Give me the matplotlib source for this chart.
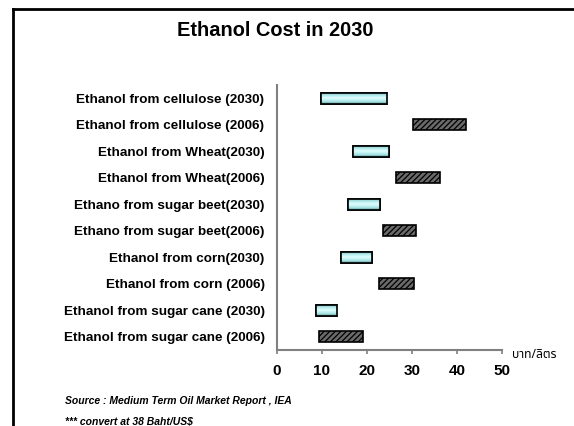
import numpy as np
import matplotlib
matplotlib.use("Agg")
import matplotlib.pyplot as plt
from matplotlib.colors import LinearSegmentedColormap
from matplotlib.lines import Line2D

plt.rcParams['font.family'] = ['Liberation Sans', 'DejaVu Sans', 'Noto Sans']
plt.rcParams['hatch.linewidth'] = 0.9

# Categories listed bottom to top
categories = [
    "Ethanol from sugar cane (2006)",
    "Ethanol from sugar cane (2030)",
    "Ethanol from corn (2006)",
    "Ethanol from corn(2030)",
    "Ethano from sugar beet(2006)",
    "Ethano from sugar beet(2030)",
    "Ethanol from Wheat(2006)",
    "Ethanol from Wheat(2030)",
    "Ethanol from cellulose (2006)",
    "Ethanol from cellulose (2030)",
]
cost_low = [9.4, 8.6, 22.7, 14.3, 23.5, 15.8, 26.4, 16.9, 30.3, 9.7]
cost_high = [19.1, 13.4, 30.5, 21.0, 30.8, 22.8, 36.2, 24.8, 42.0, 24.4]
year = [2006, 2030, 2006, 2030, 2006, 2030, 2006, 2030, 2006, 2030]
x_ticks = [0, 10, 20, 30, 40, 50]

fig = plt.figure(figsize=(5.74, 4.26), dpi=100)
fig.patch.set_facecolor('white')

# Slide frame
fig.add_artist(Line2D([13/574, 13/574], [0, 1 - 9/426], transform=fig.transFigure,
                      color='black', lw=2))
fig.add_artist(Line2D([13/574, 1], [1 - 9/426, 1 - 9/426], transform=fig.transFigure,
                      color='black', lw=2))

ax = fig.add_axes([277/574, 1 - 350/426, 225/574, 265/426])

y = np.arange(len(categories))
h = 0.42
widths = [hi - lo for lo, hi in zip(cost_low, cost_high)]

grad_cmap = LinearSegmentedColormap.from_list(
    'cyanbar', ['#3f6f6f', '#9ad6d6', '#bff2f2', '#dffcfc', '#bff2f2', '#a2dede', '#4f8383'])
grad = np.linspace(0, 1, 64).reshape(-1, 1)

for yi, lo, w, yr in zip(y, cost_low, widths, year):
    if yr == 2006:
        ax.barh(yi, w, left=lo, height=h, color='#6a6a6a', edgecolor='black',
                hatch='//////', linewidth=1.2, zorder=3)
    else:
        bar = ax.barh(yi, w, left=lo, height=h, color='#c4f4f4', edgecolor='black',
                      linewidth=1.2, zorder=3)[0]
        im = ax.imshow(grad, cmap=grad_cmap, aspect='auto', origin='upper',
                       extent=[lo, lo + w, yi - h / 2, yi + h / 2], zorder=3.5)
        im.set_clip_path(bar)
        ax.barh(yi, w, left=lo, height=h, color='none', edgecolor='black',
                linewidth=1.2, zorder=4)

ax.set_xlim(0, 50)
ax.set_ylim(-0.5, len(categories) - 0.5)
ax.set_xticks(x_ticks)
ax.set_xticklabels([str(t) for t in x_ticks], fontsize=11, fontweight='bold')
ax.set_yticks(y)
ax.set_yticklabels(categories, fontsize=9.7, fontweight='bold')
ax.tick_params(axis='y', length=0, pad=9)
ax.tick_params(axis='x', length=3, width=1.2, color='#808080', pad=7)

for side in ['top', 'right']:
    ax.spines[side].set_visible(False)
for side in ['left', 'bottom']:
    ax.spines[side].set_color('#808080')
    ax.spines[side].set_linewidth(1.5)

fig.text(275/574, 1 - 31/426, "Ethanol Cost in 2030", ha='center', va='center',
         fontsize=14.4, fontweight='bold')
fig.text(512/574, 1 - 355/426, "บาท/ลิตร", ha='left', va='center', fontsize=8.7,
         family=['Noto Sans Thai', 'Loma', 'Garuda', 'Noto Sans', 'DejaVu Sans', 'Liberation Sans'])
fig.text(65/574, 1 - 401/426, "Source : Medium Term Oil Market Report , IEA",
         ha='left', va='center', fontsize=7.5, fontweight='bold', style='italic')
fig.text(65/574, 1 - 421/426, "*** convert at 38 Baht/US$",
         ha='left', va='center', fontsize=7.5, fontweight='bold', style='italic')

fig.savefig('out.png', dpi=100)
